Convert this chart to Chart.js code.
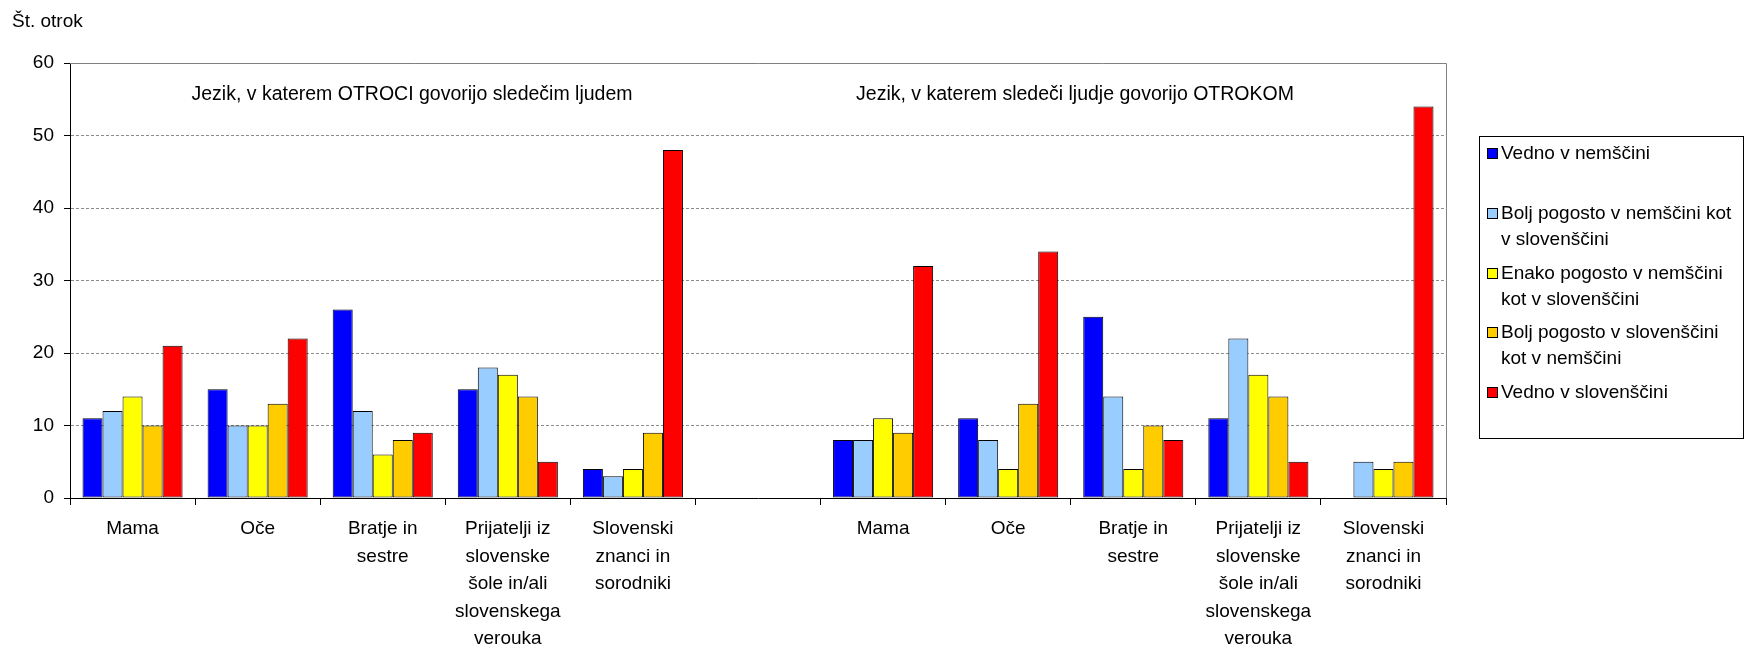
<!DOCTYPE html>
<html>
<head>
<meta charset="utf-8">
<script src="https://cdn.jsdelivr.net/npm/chart.js@4.4.1/dist/chart.umd.min.js"></script>
<style>
  html, body { margin: 0; padding: 0; background: #fff; }
  #wrap { position: relative; width: 1747px; height: 651px; }
</style>
</head>
<body>
<div id="wrap"><canvas id="c"></canvas></div>
<script>
// ---- data ----
const groupCategories = [
  ['Mama'],
  ['Oče'],
  ['Bratje in', 'sestre'],
  ['Prijatelji iz', 'slovenske', 'šole in/ali', 'slovenskega', 'verouka'],
  ['Slovenski', 'znanci in', 'sorodniki']
];
const categories = [...groupCategories, '', ...groupCategories];

const seriesLegendLines = [
  ['Vedno v nemščini'],
  ['Bolj pogosto v nemščini kot', 'v slovenščini'],
  ['Enako pogosto v nemščini', 'kot v slovenščini'],
  ['Bolj pogosto v slovenščini', 'kot v nemščini'],
  ['Vedno v slovenščini']
];
const seriesColors = ['#0000FF', '#99CCFF', '#FFFF00', '#FFCC00', '#FF0000'];

// left group: children speak to ...; right group: ... speak to children
const vednoNem        = [11, 15, 26, 15, 4,  null, 8,  11, 25, 11, 0];
const boljNemKotSlo   = [12, 10, 12, 18, 3,  null, 8,  8,  14, 22, 5];
const enako           = [14, 10, 6,  17, 4,  null, 11, 4,  4,  17, 4];
const boljSloKotNem   = [10, 13, 8,  14, 9,  null, 9,  13, 10, 14, 5];
const vednoSlo        = [21, 22, 9,  5,  48, null, 32, 34, 8,  5,  54];
const seriesValues = [vednoNem, boljNemKotSlo, enako, boljSloKotNem, vednoSlo];

const yTicks = [0, 10, 20, 30, 40, 50, 60];
const yAxisTitle = 'Št. otrok';
const groupTitles = [
  'Jezik, v katerem OTROCI govorijo sledečim ljudem',
  'Jezik, v katerem sledeči ljudje govorijo OTROKOM'
];

// ---- chart ----
const FONT = "'Liberation Sans', Arial, sans-serif";
Chart.defaults.font.family = FONT;
Chart.defaults.color = '#000';

const datasets = seriesValues.map((vals, i) => ({
  label: seriesLegendLines[i].join(' '),
  data: vals,
  backgroundColor: seriesColors[i],
  borderColor: '#000',
  borderWidth: 1,
  borderSkipped: false,
  categoryPercentage: 0.8,
  barPercentage: 1.0
}));

const decorPlugin = {
  id: 'decor',
  beforeDatasetsDraw(chart) {
    const { ctx, chartArea: a } = chart;
    ctx.save();
    ctx.strokeStyle = '#808080';
    ctx.lineWidth = 1;
    ctx.beginPath();
    ctx.moveTo(a.left, Math.round(a.top) + 0.5);
    ctx.lineTo(Math.round(a.right) + 0.5, Math.round(a.top) + 0.5);
    ctx.lineTo(Math.round(a.right) + 0.5, a.bottom);
    ctx.stroke();
    ctx.restore();
  },
  afterDraw(chart) {
    const { ctx } = chart;
    ctx.save();
    ctx.fillStyle = '#000';
    ctx.textBaseline = 'middle';
    // axis title
    ctx.font = '19px ' + FONT;
    ctx.textAlign = 'left';
    ctx.fillText(yAxisTitle, 12, 22);
    // group titles
    ctx.font = '19.5px ' + FONT;
    ctx.textAlign = 'center';
    ctx.fillText(groupTitles[0], 412, 95);
    ctx.fillText(groupTitles[1], 1075, 95);

    // legend
    const bx = 1479.5, by = 136.5, bw = 264, bh = 302;
    ctx.strokeStyle = '#000';
    ctx.lineWidth = 1;
    ctx.strokeRect(bx, by, bw, bh);
    ctx.font = '19px ' + FONT;
    ctx.textAlign = 'left';
    const firstY = 154, step = 59.75, lineH = 25.5;
    chart.data.datasets.forEach((ds, i) => {
      const y = Math.round(firstY + i * step);
      ctx.fillStyle = ds.backgroundColor;
      ctx.fillRect(1487.5, y - 5.5, 10, 10);
      ctx.strokeRect(1487.5, y - 5.5, 10, 10);
      ctx.fillStyle = '#000';
      seriesLegendLines[i].forEach((ln, k) => ctx.fillText(ln, 1501, y + k * lineH));
    });
    ctx.restore();
  }
};

new Chart(document.getElementById('c'), {
  type: 'bar',
  data: { labels: categories, datasets },
  options: {
    responsive: true,
    maintainAspectRatio: false,
    animation: false,
    layout: { padding: { left: 0, top: 63, right: 301, bottom: 0 } },
    plugins: { legend: { display: false }, tooltip: { enabled: false } },
    scales: {
      x: {
        afterFit(s) { s.height = 153; },
        grid: {
          offset: true,
          drawOnChartArea: false,
          drawTicks: true,
          tickLength: 7,
          tickColor: '#000',
          tickWidth: 1
        },
        border: { display: true, color: '#000', width: 1 },
        ticks: {
          autoSkip: false,
          maxRotation: 0,
          minRotation: 0,
          padding: 10,
          font: { size: 19, lineHeight: 1.45 },
          color: '#000'
        }
      },
      y: {
        min: 0,
        max: 60,
        afterFit(s) { s.width = 70; },
        afterBuildTicks(s) { s.ticks = yTicks.map(v => ({ value: v })); },
        grid: {
          color: (c) => (c.tick && (c.tick.value === 0 || c.tick.value === 60)) ? 'rgba(0,0,0,0)' : '#8c8c8c',
          tickColor: '#000',
          tickLength: 6,
          lineWidth: 1
        },
        border: { display: true, color: '#000', width: 1, dash: [3, 2] },
        ticks: {
          padding: 10,
          font: { size: 19 },
          color: '#000'
        }
      }
    }
  },
  plugins: [decorPlugin]
});
</script>
</body>
</html>
